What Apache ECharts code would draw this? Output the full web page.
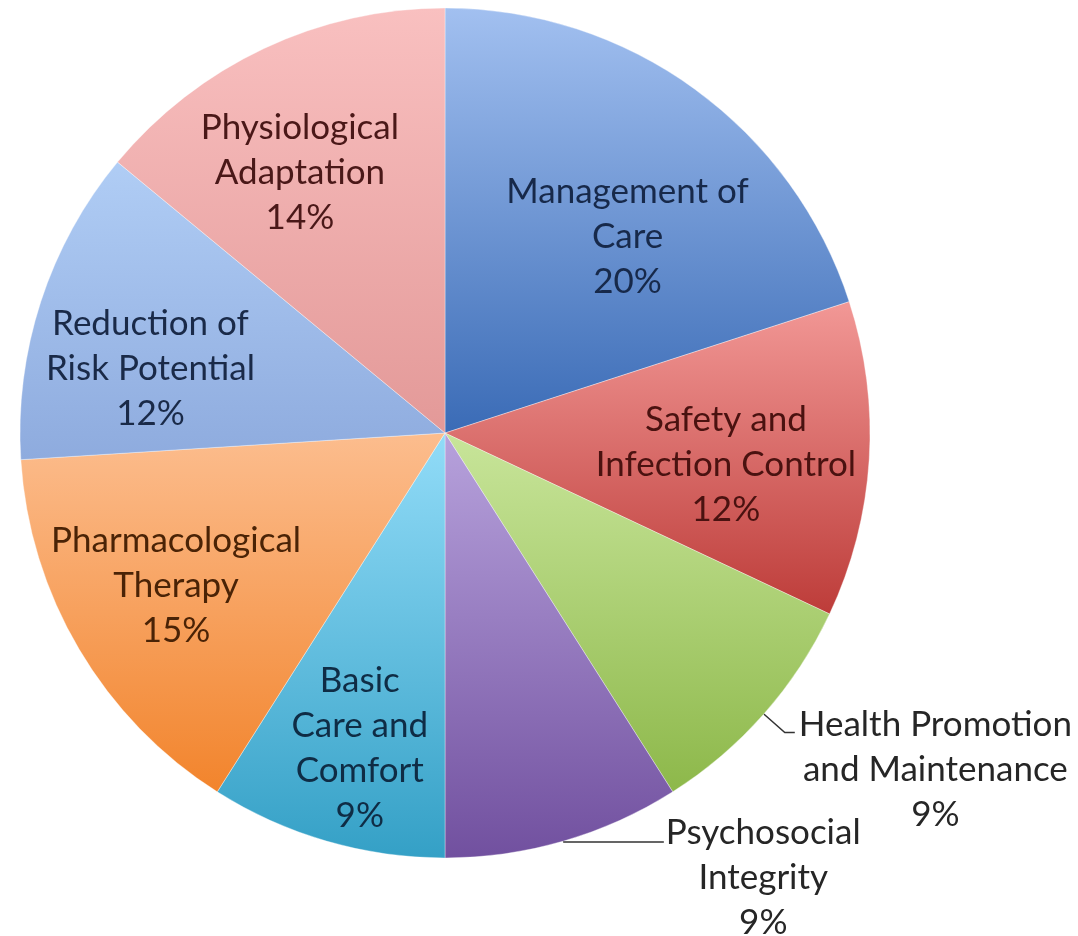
<!DOCTYPE html>
<html>
<head>
<meta charset="utf-8">
<script src="https://cdn.jsdelivr.net/npm/echarts@6/dist/echarts.min.js"></script>
<style>
html,body{margin:0;padding:0;background:#fff;}
#chart{width:1078px;height:936px;}
</style>
</head>
<body>
<div id="chart"></div>
<script>
// Data
var categories = [
  'Management of Care',
  'Safety and Infection Control',
  'Health Promotion and Maintenance',
  'Psychosocial Integrity',
  'Basic Care and Comfort',
  'Pharmacological Therapy',
  'Reduction of Risk Potential',
  'Physiological Adaptation'
];
var values = [20, 12, 9, 9, 9, 15, 12, 14];
var labelLines = [
  ['Management of', 'Care'],
  ['Safety and', 'Infection Control'],
  ['Health Promotion', 'and Maintenance'],
  ['Psychosocial', 'Integrity'],
  ['Basic', 'Care and', 'Comfort'],
  ['Pharmacological', 'Therapy'],
  ['Reduction of', 'Risk Potential'],
  ['Physiological', 'Adaptation']
];

// Styles
var gradients = [
  ['#a2c0f0', '#3a6bb6'],
  ['#f29896', '#bd3c39'],
  ['#c8e59a', '#8db84a'],
  ['#b7a2dc', '#71509f'],
  ['#92dcf8', '#34a0c6'],
  ['#fcbd8e', '#f2842c'],
  ['#b0cdf5', '#8eabde'],
  ['#f9c0c0', '#e39998']
];
var textColors = ['#17294a', '#4a1210', '#262626', '#262626', '#0f2c45', '#4a2306', '#1a2a48', '#4a1818'];
var outsideIdx = [2, 3];
var insideOffsets = {0: [3, 51], 1: [-24, 13], 4: [0, 22], 5: [-6, -3], 6: [-4, 30], 7: [-15, 16]};

var FONT = 'Lato, "Open Sans", sans-serif';
var FS = 35, LH = 45;

function richText(i) {
  var lines = labelLines[i].concat([values[i] + '%']);
  return lines.map(function (l) { return '{c|' + l + '}'; }).join('\n');
}

var fillData = categories.map(function (c, i) {
  var isOut = outsideIdx.indexOf(i) >= 0;
  var item = {
    name: c,
    value: values[i],
    itemStyle: {
      color: new echarts.graphic.LinearGradient(0, 0, 0, 1, [
        {offset: 0, color: gradients[i][0]},
        {offset: 1, color: gradients[i][1]}
      ])
    }
  };
  if (isOut) {
    var isHealth = (i === 2);
    item.label = {
      show: true,
      position: 'outside',
      formatter: richText(i),
      padding: isHealth ? [74, 0, 0, 0] : [72, 0, 0, 0],
      distanceToLabelLine: isHealth ? 4 : 2,
      color: textColors[i],
      rich: {c: {align: 'center', fontSize: FS, lineHeight: LH, fontFamily: FONT, color: textColors[i]}}
    };
    item.labelLine = {
      show: true,
      length: isHealth ? 28 : 1,
      length2: isHealth ? 10 : 100,
      maxSurfaceAngle: 180,
      lineStyle: {color: '#333', width: 1.5}
    };
  } else {
    item.label = {show: false};
    item.labelLine = {show: false};
  }
  return item;
});

var labelData = categories.map(function (c, i) {
  var isOut = outsideIdx.indexOf(i) >= 0;
  return {
    name: c,
    value: values[i],
    itemStyle: {color: 'rgba(0,0,0,0)'},
    label: isOut ? {show: false} : {
      show: true,
      position: 'inside',
      formatter: richText(i),
      offset: insideOffsets[i] || [0, 0],
      rich: {c: {align: 'center', fontSize: FS, lineHeight: LH, fontFamily: FONT, color: textColors[i]}}
    }
  };
});

var chart = echarts.init(document.getElementById('chart'), null, {renderer: 'canvas'});
chart.setOption({
  backgroundColor: '#ffffff',
  animation: false,
  series: [
    {
      type: 'pie',
      center: [445, 433],
      radius: [0, 425],
      startAngle: 90,
      clockwise: true,
      avoidLabelOverlap: false,
      labelLayout: {hideOverlap: false},
      silent: true,
      itemStyle: {borderColor: 'rgba(255,255,255,0.35)', borderWidth: 1},
      labelLine: {smooth: false},
      data: fillData
    },
    {
      type: 'pie',
      center: [445, 433],
      radius: [180, 425],
      startAngle: 90,
      clockwise: true,
      avoidLabelOverlap: false,
      labelLayout: {hideOverlap: false},
      silent: true,
      itemStyle: {borderWidth: 0},
      labelLine: {show: false},
      data: labelData
    }
  ]
});
</script>
</body>
</html>
